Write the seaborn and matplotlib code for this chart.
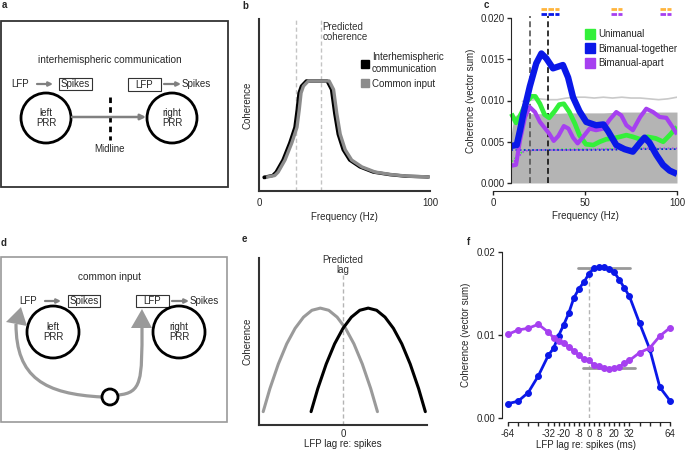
import matplotlib
matplotlib.use('Agg')
import matplotlib.pyplot as plt
from matplotlib.patches import Rectangle, Circle, Polygon, PathPatch
from matplotlib.path import Path
from matplotlib.lines import Line2D
import seaborn as sns

sns.set_style('ticks')
plt.rcParams['font.family'] = ['Liberation Sans', 'DejaVu Sans']
plt.rcParams['font.size'] = 7

GREEN = '#33f03a'
BLUE = '#0a18e8'
PURPLE = '#a640f0'
ORANGE = '#ffb43c'

# panel b - schematic spectra
b_freq_black = [3, 8, 10, 14, 18, 21, 22.3, 23.4, 24.8, 27.7, 33.6, 39.8, 42.4, 44.3, 46.3, 49.2, 53, 59, 66.8, 76.6, 86, 99]
b_freq_gray = [4, 9.2, 11.2, 15.2, 19.2, 22.2, 23.5, 24.6, 26, 28.9, 34.8, 41, 43.6, 45.5, 47.5, 50.4, 54.2, 60.2, 68, 77.8, 87.2, 100]
b_coh = [0.08, 0.09, 0.11, 0.18, 0.28, 0.37, 0.47, 0.57, 0.61, 0.64, 0.64, 0.64, 0.59, 0.45, 0.33, 0.24, 0.18, 0.14, 0.11, 0.095, 0.086, 0.082]
b_predicted = [21.6, 36]

# panel c - measured coherence spectra
uni_freq = [10, 12.5, 15.5, 18, 21, 23, 25.5, 28, 30.5, 33.5, 36, 38.5, 41.5, 44.5, 47, 50.5, 54.5, 58, 61.5, 65, 69, 72.5, 76, 80, 84, 88.5, 92.5, 96, 100]
uni_coh = [0.0084, 0.0073, 0.0085, 0.0098, 0.0105, 0.0105, 0.0096, 0.0083, 0.0079, 0.0087, 0.0095, 0.0096, 0.0086, 0.0072, 0.0058, 0.0047, 0.0046, 0.0050, 0.0053, 0.0054, 0.0056, 0.0058, 0.0056, 0.0053, 0.0056, 0.0054, 0.0050, 0.0058, 0.0068]
tog_freq = [10, 12.9, 14.7, 16.5, 18.3, 20, 23.5, 26.3, 29, 32.6, 35.3, 38, 40.8, 43.5, 47, 50.7, 56, 60, 62.5, 67, 71.5, 76, 80, 82.4, 85, 88.8, 92.4, 96, 100]
tog_coh = [0.0045, 0.0046, 0.0064, 0.0084, 0.0101, 0.0117, 0.0145, 0.0157, 0.0151, 0.0139, 0.0141, 0.0143, 0.0128, 0.0104, 0.0087, 0.0074, 0.0070, 0.0071, 0.0063, 0.0046, 0.0041, 0.0038, 0.0049, 0.0055, 0.0049, 0.0034, 0.0022, 0.0015, 0.0011]
apart_freq = [10, 12.5, 14.7, 17.4, 20, 22.8, 25.5, 28, 30.5, 33, 35.5, 38.5, 41, 43.5, 46, 49, 52.5, 56, 60, 63.5, 67, 69.7, 72.5, 76, 80, 83.3, 87, 90.6, 94.2, 97.8, 100]
apart_coh = [0.0021, 0.0022, 0.0052, 0.0080, 0.0092, 0.0086, 0.0074, 0.0067, 0.0060, 0.0051, 0.0057, 0.0069, 0.0066, 0.0055, 0.0048, 0.0056, 0.0066, 0.0064, 0.0066, 0.0077, 0.0086, 0.0082, 0.0070, 0.0064, 0.0080, 0.0090, 0.0086, 0.0080, 0.0079, 0.0067, 0.0059]
fill_freq = [10, 11, 12, 15, 20, 30, 40, 50, 60, 70, 80, 90, 100]
fill_top = [0.0060, 0.0075, 0.0082, 0.0083, 0.0084, 0.0084, 0.0085, 0.0085, 0.0085, 0.0086, 0.0086, 0.0086, 0.0086]
shuf_freq = [16, 20, 25, 30, 35, 40, 45, 50, 55, 60, 65, 70, 75, 80, 85, 90, 95, 100]
shuf_coh = [0.0099, 0.0100, 0.0102, 0.0101, 0.0101, 0.0103, 0.0104, 0.0104, 0.0103, 0.0104, 0.0103, 0.0104, 0.0103, 0.0103, 0.0102, 0.0101, 0.0102, 0.0104]
null_freq = [10, 13, 17, 25, 40, 60, 80, 100]
null_uni = [0.0026, 0.0032, 0.0040, 0.0040, 0.0041, 0.0041, 0.0042, 0.0041]
null_tog = [0.0040, 0.0040, 0.0040, 0.0040, 0.0040, 0.0040, 0.0041, 0.0041]
null_apart = [0.0022, 0.0030, 0.0039, 0.0040, 0.0040, 0.0041, 0.0042, 0.0042]
c_band = [20, 30]
sig_orange = [(26, 36), (64, 70), (91, 97)]
sig_blue = [(26, 36)]
sig_purple = [(64, 70), (91, 97)]

# panel e - schematic lag curves
e_dx = [-0.68, -0.6, -0.5, -0.4, -0.3, -0.2, -0.1, 0, 0.1, 0.2, 0.3, 0.4, 0.5, 0.6, 0.68]
e_coh = [0.08, 0.218, 0.365, 0.486, 0.579, 0.646, 0.687, 0.70, 0.687, 0.646, 0.579, 0.486, 0.365, 0.218, 0.08]
e_peak_gray = -0.27
e_peak_black = 0.30

# panel f - coherence vs lag
f_lag = [-64, -56, -48, -40, -32, -28, -24, -20, -16, -12, -8, -4, 0, 4, 8, 12, 16, 20, 24, 28, 32, 40, 48, 56, 64]
f_tog = [0.00173, 0.00202, 0.00306, 0.00508, 0.00758, 0.00839, 0.00992, 0.01121, 0.01262, 0.01444, 0.01556, 0.01637, 0.01738, 0.01806, 0.01815, 0.01819, 0.01798, 0.01754, 0.01665, 0.01565, 0.01464, 0.01141, 0.00830, 0.00370, 0.00208]
f_apart = [0.01008, 0.01060, 0.01081, 0.01129, 0.01032, 0.00968, 0.00927, 0.00899, 0.00859, 0.00806, 0.00758, 0.00707, 0.00699, 0.00634, 0.00622, 0.00598, 0.00595, 0.00601, 0.00620, 0.00658, 0.00694, 0.00788, 0.00843, 0.00988, 0.01087]
f_labeled = [-64, -32, -20, -8, 0, 8, 20, 32, 64]

W, H = 685, 451
fig = plt.figure(figsize=(W / 100, H / 100), dpi=100)

# overlay in pixel coordinates for the schematics (a, d) and panel letters
ov = fig.add_axes([0, 0, 1, 1])
ov.set_xlim(0, W)
ov.set_ylim(H, 0)
ov.axis('off')

for lab, x, y in [('a', 4, 5), ('b', 245, 6), ('c', 486, 5), ('d', 4, 243), ('e', 244, 239), ('f', 469, 242)]:
    ov.text(x, y, lab, fontweight='bold', fontsize=7, ha='center', va='center')

grey_arrow = dict(arrowstyle='-|>', color='#808080', lw=1.6, mutation_scale=6, shrinkA=0, shrinkB=0)

# --- panel a
ov.add_patch(Rectangle((1, 21), 227, 166, fill=False, ec='#333333', lw=1.3))
ov.text(110, 60, 'interhemispheric communication', ha='center', va='center', fontsize=7.2)
ov.text(20, 84, 'LFP', ha='center', va='center')
ov.annotate('', xy=(53, 84), xytext=(37, 84), arrowprops=grey_arrow)
ov.add_patch(Rectangle((59, 78), 33, 12, fill=False, ec='#333333', lw=0.8))
ov.text(75.5, 84, 'Spikes', ha='center', va='center')
ov.add_patch(Rectangle((128, 78), 33, 13, fill=False, ec='#333333', lw=0.8))
ov.text(144.5, 84.5, 'LFP', ha='center', va='center')
ov.annotate('', xy=(181, 84), xytext=(164, 84), arrowprops=grey_arrow)
ov.text(196, 84, 'Spikes', ha='center', va='center')
for cx, txt in [(46, 'left\nPRR'), (172, 'right\nPRR')]:
    ov.add_patch(Circle((cx, 118), 25, fill=False, ec='black', lw=2))
    ov.text(cx, 118, txt, ha='center', va='center', linespacing=0.95)
ov.annotate('', xy=(146, 117), xytext=(72, 117),
            arrowprops=dict(arrowstyle='-|>', color='#808080', lw=1.8, mutation_scale=8, shrinkA=0, shrinkB=0))
ov.plot([110, 110], [97, 140], color='black', lw=2, ls=(0, (2, 1.5)))
ov.text(110, 149, 'Midline', ha='center', va='center')

# --- panel d
ov.add_patch(Rectangle((0.5, 257), 227, 165, fill=False, ec='#9a9a9a', lw=1.2))
ov.text(110, 277, 'common input', ha='center', va='center', fontsize=7.2)
ov.text(28, 301, 'LFP', ha='center', va='center')
ov.annotate('', xy=(61, 301), xytext=(45, 301), arrowprops=grey_arrow)
ov.add_patch(Rectangle((68, 295), 32, 12, fill=False, ec='#333333', lw=0.8))
ov.text(84, 301, 'Spikes', ha='center', va='center')
ov.add_patch(Rectangle((136, 295), 33, 12, fill=False, ec='#333333', lw=0.8))
ov.text(152.5, 301, 'LFP', ha='center', va='center')
ov.annotate('', xy=(189, 301), xytext=(172, 301), arrowprops=grey_arrow)
ov.text(204, 301, 'Spikes', ha='center', va='center')
for cx, txt in [(53, 'left\nPRR'), (179, 'right\nPRR')]:
    ov.add_patch(Circle((cx, 332), 26, fill=False, ec='black', lw=2))
    ov.text(cx, 332, txt, ha='center', va='center', linespacing=0.95)
curve_l = Path([(102, 397), (45, 394), (16, 378), (16, 324)], [Path.MOVETO, Path.CURVE4, Path.CURVE4, Path.CURVE4])
curve_r = Path([(118, 395), (142, 393), (142, 380), (142, 326)], [Path.MOVETO, Path.CURVE4, Path.CURVE4, Path.CURVE4])
for p in (curve_l, curve_r):
    ov.add_patch(PathPatch(p, fill=False, ec='#9a9a9a', lw=2.3))
ov.add_patch(Polygon([(6, 322), (27, 326), (21, 307)], closed=True, fc='#9a9a9a', ec='none'))
ov.add_patch(Polygon([(131, 328), (152, 328), (142, 309)], closed=True, fc='#9a9a9a', ec='none'))
ov.add_patch(Circle((110, 397), 8, fc='white', ec='black', lw=2, zorder=3))


def px_axes(left, top, right, bottom):
    a = fig.add_axes([left / W, 1 - bottom / H, (right - left) / W, (bottom - top) / H])
    a.set_facecolor('none')
    return a


# --- panel b
axb = px_axes(259, 19, 430, 191)
axb.set_xlim(0, 100)
axb.set_ylim(0, 1)
for f0 in b_predicted:
    axb.axvline(f0, color='#c4c4c4', lw=1, ls=(0, (3, 2)))
sns.lineplot(x=b_freq_black, y=b_coh, ax=axb, color='black', lw=2.4)
sns.lineplot(x=b_freq_gray, y=b_coh, ax=axb, color='#8c8c8c', lw=2.4)
axb.plot(b_freq_black[0], b_coh[0], 's', color='black', ms=2)
axb.text(37, 0.925, 'Predicted\ncoherence', ha='left', va='center', linespacing=1.0, color='#333333')
hb = [Line2D([], [], marker='s', ls='', color='black', ms=6),
      Line2D([], [], marker='s', ls='', color='#8c8c8c', ms=6)]
axb.legend(hb, ['Interhemispheric\ncommunication', 'Common input'], loc='upper left',
           bbox_to_anchor=(0.57, 0.83), frameon=False, handletextpad=0.2, handlelength=1,
           labelspacing=0.5, borderaxespad=0, fontsize=7)
axb.set_yticks([])
axb.set_xticks([0, 100])
axb.tick_params(axis='x', length=0, pad=5)
axb.set_xlabel('Frequency (Hz)', labelpad=3)
axb.set_ylabel('Coherence', labelpad=5)
sns.despine(ax=axb)
for s in ('left', 'bottom'):
    axb.spines[s].set_color('#333333')
    axb.spines[s].set_linewidth(1.5)

# --- panel c
axc = px_axes(493, 18, 677, 183)
axc.set_xlim(0, 100)
axc.set_ylim(0, 0.02)
axc.fill_between(fill_freq, 0, fill_top, color='#b4b4b4', lw=0)
sns.lineplot(x=shuf_freq, y=shuf_coh, ax=axc, color='#c9c9c9', lw=1.2)
for ys, col in [(null_uni, GREEN), (null_tog, BLUE), (null_apart, PURPLE)]:
    sns.lineplot(x=null_freq, y=ys, ax=axc, color=col, lw=1.2, ls=(0, (1, 1.5)))
for f0, col in zip(c_band, ['#555555', '#111111']):
    axc.plot([f0, f0], [0, 0.0202], color=col, lw=1.2, ls=(0, (3.5, 2)), clip_on=False)
sns.lineplot(x=uni_freq, y=uni_coh, ax=axc, color=GREEN, lw=3.4, solid_joinstyle='round', solid_capstyle='butt')
sns.lineplot(x=apart_freq, y=apart_coh, ax=axc, color=PURPLE, lw=3.0, solid_joinstyle='round', solid_capstyle='butt')
sns.lineplot(x=tog_freq, y=tog_coh, ax=axc, color=BLUE, lw=4.6, solid_joinstyle='round', solid_capstyle='butt')
for spans, y0, col in [(sig_orange, 0.02105, ORANGE), (sig_blue, 0.02048, BLUE), (sig_purple, 0.02048, PURPLE)]:
    for a0, a1 in spans:
        axc.plot([a0, a1], [y0, y0], color=col, lw=2, ls=(0, (2, 0.5)), clip_on=False)
hc = [Line2D([], [], marker='s', ls='', color=c, ms=6.5) for c in (GREEN, BLUE, PURPLE)]
axc.legend(hc, ['Unimanual', 'Bimanual-together', 'Bimanual-apart'], loc='upper left',
           bbox_to_anchor=(0.48, 0.955), frameon=False, handletextpad=0.3, handlelength=1,
           labelspacing=0.45, borderaxespad=0, fontsize=7)
axc.set_xticks([0, 50, 100])
axc.set_yticks([0, 0.005, 0.01, 0.015, 0.02])
axc.set_yticklabels(['0.000', '0.005', '0.010', '0.015', '0.020'])
axc.tick_params(length=3, width=1, pad=2, labelsize=7)
axc.set_xlabel('Frequency (Hz)', labelpad=2)
axc.set_ylabel('Coherence (vector sum)', labelpad=3)
sns.despine(ax=axc)
axc.spines['left'].set_position(('data', 10))
axc.spines['bottom'].set_position(('outward', 6))

# --- panel e
axe = px_axes(259, 258, 427, 425)
axe.set_xlim(-1, 1)
axe.set_ylim(0, 1)
axe.plot([0, 0], [0, 0.9], color='#b4b4b4', lw=1, ls=(0, (3, 2)))
sns.lineplot(x=[d + e_peak_gray for d in e_dx], y=e_coh, ax=axe, color='#9a9a9a', lw=2.2)
sns.lineplot(x=[d + e_peak_black for d in e_dx], y=e_coh, ax=axe, color='black', lw=2.2)
axe.text(0, 0.96, 'Predicted\nlag', ha='center', va='center', linespacing=1.0, color='#333333')
axe.set_yticks([])
axe.set_xticks([0])
axe.tick_params(axis='x', length=0, pad=3)
axe.set_xlabel('LFP lag re: spikes', labelpad=0)
axe.set_ylabel('Coherence', labelpad=5)
sns.despine(ax=axe)
for s in ('left', 'bottom'):
    axe.spines[s].set_color('#333333')
    axe.spines[s].set_linewidth(1.5)

# --- panel f
axf = px_axes(502, 252, 670, 418)
axf.set_xlim(-68.7, 64)
axf.set_ylim(0, 0.02)
axf.plot([0, 0], [0, 0.0181], color='#b4b4b4', lw=1, ls=(0, (3, 2)))
axf.plot([-8.4, 32.4], [0.0181, 0.0181], color='#999999', lw=2)
axf.plot([-4.5, 36.4], [0.0060, 0.0060], color='#999999', lw=2)
sns.lineplot(x=f_lag, y=f_tog, ax=axf, color=BLUE, lw=2, marker='o', ms=4.2, mec=BLUE, clip_on=False)
sns.lineplot(x=f_lag, y=f_apart, ax=axf, color=PURPLE, lw=2, marker='o', ms=4.2, mec=PURPLE, clip_on=False)
axf.set_xticks(f_lag)
axf.set_xticklabels([str(v) if v in f_labeled else '' for v in f_lag])
axf.set_yticks([0, 0.01, 0.02])
axf.set_yticklabels(['0.00', '0.01', '0.02'])
axf.tick_params(length=3, width=1, pad=2, labelsize=7)
axf.set_xlabel('LFP lag re: spikes (ms)', labelpad=1)
axf.set_ylabel('Coherence (vector sum)', labelpad=4)
sns.despine(ax=axf)
axf.spines['bottom'].set_bounds(-64, 64)
axf.spines['bottom'].set_position(('outward', 3))

fig.savefig('out.png', dpi=100)
